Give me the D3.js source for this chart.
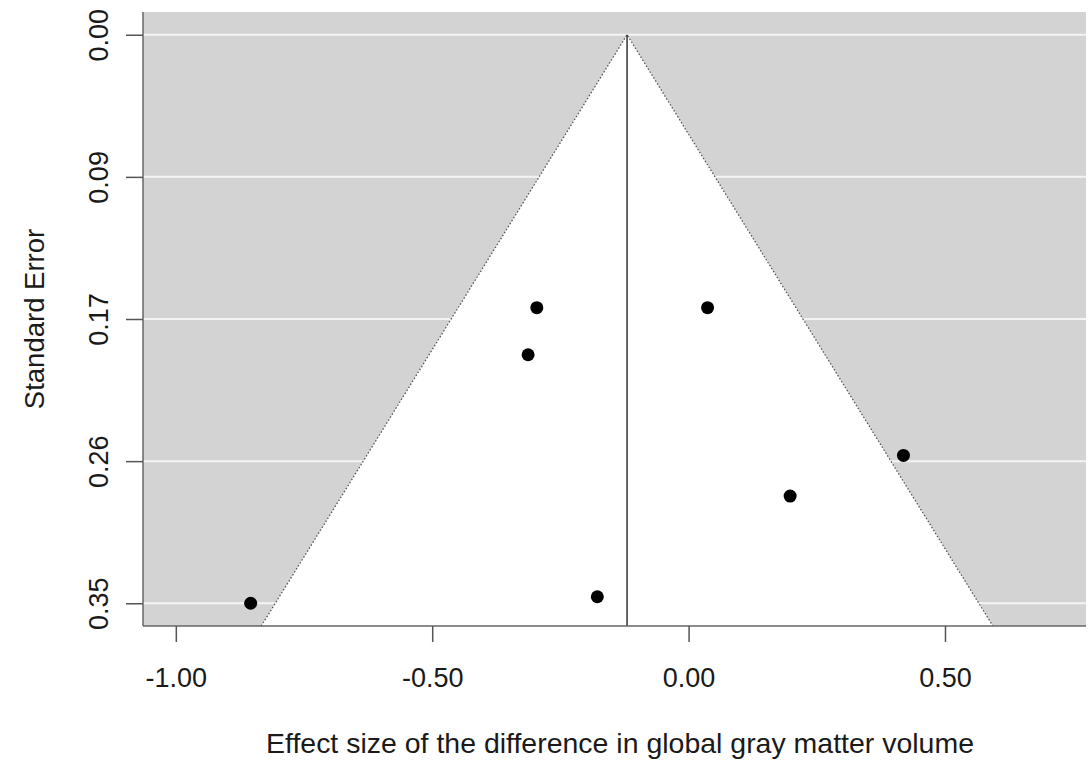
<!DOCTYPE html>
<html>
<head>
<meta charset="utf-8">
<script src="https://cdn.jsdelivr.net/npm/d3@7"></script>
<style>
  html, body { margin: 0; padding: 0; background: #ffffff; }
  svg { display: block; }
  text { font-family: "Liberation Sans", Arial, sans-serif; fill: #1a1a1a; }
</style>
</head>
<body>
<svg id="chart" width="1091" height="761"></svg>
<script>
// Study effect sizes and their standard errors
const effectSizes = [-0.854, -0.296, -0.313, -0.178, 0.037, 0.419, 0.198];
const standardErrors = [0.350, 0.168, 0.197, 0.346, 0.168, 0.259, 0.284];

// Pooled estimate (funnel centre)
const pooledEstimate = -0.12;

// Axis ticks and labels
const xTickValues = [-1.0, -0.5, 0.0, 0.5];
const xTickLabels = ["-1.00", "-0.50", "0.00", "0.50"];
const yTickValues = [0, 0.0875, 0.175, 0.2625, 0.35];
const yTickLabels = ["0.00", "0.09", "0.17", "0.26", "0.35"];

const xTitle = "Effect size of the difference in global gray matter volume";
const yTitle = "Standard Error";

const svg = d3.select("#chart");
const plotLeft = 143, plotRight = 1086, plotTop = 12, plotBottom = 626;

const seMax = 0.35;
const sePad = 0.04 * seMax;
const x = d3.scaleLinear().domain([-1.064, 0.775]).range([plotLeft, plotRight]);
const y = d3.scaleLinear().domain([-sePad, seMax + sePad]).range([plotTop, plotBottom]);

// Shaded background
svg.append("rect")
  .attr("x", plotLeft).attr("y", plotTop)
  .attr("width", plotRight - plotLeft).attr("height", plotBottom - plotTop)
  .attr("fill", "#d3d3d3");

// White grid lines at each standard error tick
svg.append("g").selectAll("line").data(yTickValues).join("line")
  .attr("x1", plotLeft).attr("x2", plotRight)
  .attr("y1", d => y(d)).attr("y2", d => y(d))
  .attr("stroke", "#f4f4f4").attr("stroke-width", 2);

// Pseudo confidence region (95%)
const seBottom = y.domain()[1];
const funnel = [
  [pooledEstimate - 1.96 * seBottom, seBottom],
  [pooledEstimate, 0],
  [pooledEstimate + 1.96 * seBottom, seBottom]
];
svg.append("polygon")
  .attr("points", funnel.map(p => [x(p[0]), y(p[1])].join(",")).join(" "))
  .attr("fill", "#ffffff");

svg.append("path")
  .attr("d", d3.line().x(p => x(p[0])).y(p => y(p[1]))(funnel))
  .attr("fill", "none")
  .attr("stroke", "#555")
  .attr("stroke-width", 1.3)
  .attr("stroke-dasharray", "1.5,2");

// Vertical line at the pooled estimate
svg.append("line")
  .attr("x1", x(pooledEstimate)).attr("x2", x(pooledEstimate))
  .attr("y1", y(0)).attr("y2", plotBottom)
  .attr("stroke", "#333").attr("stroke-width", 1.5);

// Axis lines
svg.append("line").attr("x1", plotLeft).attr("x2", plotLeft).attr("y1", plotTop).attr("y2", plotBottom)
  .attr("stroke", "#666").attr("stroke-width", 1.5);
svg.append("line").attr("x1", plotLeft).attr("x2", plotRight).attr("y1", plotBottom).attr("y2", plotBottom)
  .attr("stroke", "#666").attr("stroke-width", 1.5);

// Studies
svg.append("g").selectAll("circle").data(effectSizes).join("circle")
  .attr("cx", d => x(d))
  .attr("cy", (d, i) => y(standardErrors[i]))
  .attr("r", 6.5)
  .attr("fill", "#000");

// X axis
const xAxis = d3.axisBottom(x).tickValues(xTickValues)
  .tickFormat((d, i) => xTickLabels[i]).tickSize(16).tickSizeOuter(0).tickPadding(26);
const gx = svg.append("g").attr("transform", `translate(0,${plotBottom})`).call(xAxis);
gx.select(".domain").remove();
gx.selectAll(".tick line").attr("stroke", "#555").attr("stroke-width", 1.5);
gx.selectAll(".tick text").attr("font-size", 27).attr("fill", "#1a1a1a")
  .attr("font-family", "Liberation Sans, Arial, sans-serif");

// Y axis with rotated labels
const yAxis = d3.axisLeft(y).tickValues(yTickValues)
  .tickFormat((d, i) => yTickLabels[i]).tickSize(17).tickSizeOuter(0);
const gy = svg.append("g").attr("transform", `translate(${plotLeft},0)`).call(yAxis);
gy.select(".domain").remove();
gy.selectAll(".tick line").attr("stroke", "#555").attr("stroke-width", 1.5);
gy.selectAll(".tick text")
  .attr("font-size", 27).attr("fill", "#1a1a1a")
  .attr("font-family", "Liberation Sans, Arial, sans-serif")
  .attr("x", null).attr("dy", null)
  .attr("text-anchor", "middle")
  .attr("transform", "translate(-35,0) rotate(-90)");

// Axis titles
svg.append("text")
  .attr("x", 620).attr("y", 753)
  .attr("text-anchor", "middle").attr("font-size", 28)
  .attr("textLength", 708).attr("lengthAdjust", "spacingAndGlyphs")
  .text(xTitle);

svg.append("text")
  .attr("transform", `translate(44,${(plotTop + plotBottom) / 2}) rotate(-90)`)
  .attr("text-anchor", "middle").attr("font-size", 27.5)
  .text(yTitle);
</script>
</body>
</html>
